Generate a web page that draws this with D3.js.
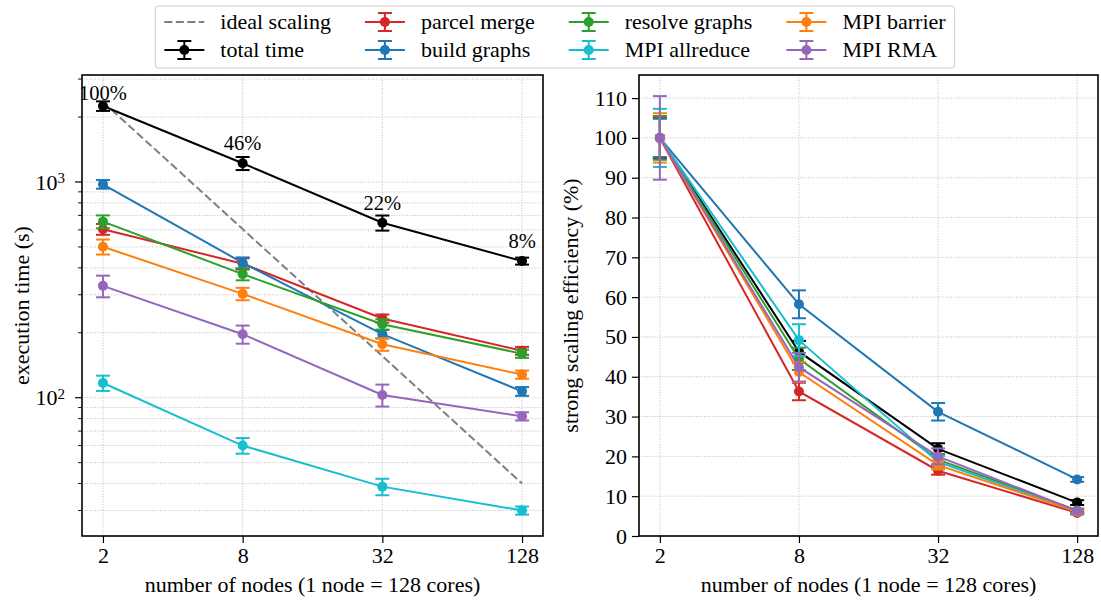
<!DOCTYPE html>
<html>
<head>
<meta charset="utf-8">
<script src="https://cdn.jsdelivr.net/npm/d3@7"></script>
<style>
  body { margin: 0; background: #fff; }
  text { font-family: "Liberation Serif", "DejaVu Serif", serif; fill: #000; }
</style>
</head>
<body>
<svg id="chart" width="1101" height="601"></svg>
<script>
// ---- data ----
var nodes = [2, 8, 32, 128]
var seriesNames = ["total time", "parcel merge", "build graphs", "resolve graphs", "MPI allreduce", "MPI barrier", "MPI RMA"]
var seriesColors = ["#000000", "#d62728", "#1f77b4", "#2ca02c", "#17becf", "#ff7f0e", "#9467bd"]

// execution time (s), mean and error
var totalTime = [2250, 1221, 647, 430]
var totalTimeErr = [115, 85, 52, 16]
var parcelTime = [604, 418, 233, 165]
var parcelTimeErr = [35, 25, 10, 7]
var buildTime = [976, 422, 197, 107]
var buildTimeErr = [45, 25, 9, 5]
var resolveTime = [655, 374, 219, 160]
var resolveTimeErr = [45, 24, 12, 7]
var allreduceTime = [117, 60, 38.7, 30]
var allreduceTimeErr = [9.5, 5, 3.4, 1.3]
var barrierTime = [501, 303, 177, 128]
var barrierTimeErr = [40, 20, 12, 5.6]
var rmaTime = [330, 197, 103, 82]
var rmaTimeErr = [38, 19, 12, 3.6]
var idealTime = [2350, 605, 156, 40]
var totalLabels = ["100%", "46%", "22%", "8%"]

// strong scaling efficiency (%), mean and error
var totalEff = [100, 46.3, 21.9, 8.4]
var totalEffErr = [5.1, 2.7, 1.4, 0.6]
var parcelEff = [100, 36.3, 16.4, 5.8]
var parcelEffErr = [5.0, 2.2, 1.0, 0.4]
var buildEff = [100, 58.2, 31.2, 14.2]
var buildEffErr = [4.8, 3.5, 2.2, 0.6]
var resolveEff = [100, 44.5, 19.2, 6.4]
var resolveEffErr = [5.5, 2.8, 1.2, 0.5]
var allreduceEff = [100, 49.2, 18.6, 6.1]
var allreduceEffErr = [7.3, 4.0, 1.5, 0.5]
var barrierEff = [100, 41.2, 17.8, 6.1]
var barrierEffErr = [6.2, 2.5, 1.1, 0.4]
var rmaEff = [100, 42.4, 20.0, 6.3]
var rmaEffErr = [10.5, 3.6, 2.0, 0.5]

var effTicks = [0, 10, 20, 30, 40, 50, 60, 70, 80, 90, 100, 110]

var timeSeries = [
    [totalTime, totalTimeErr], [parcelTime, parcelTimeErr], [buildTime, buildTimeErr],
    [resolveTime, resolveTimeErr], [allreduceTime, allreduceTimeErr],
    [barrierTime, barrierTimeErr], [rmaTime, rmaTimeErr]
]
var effSeries = [
    [totalEff, totalEffErr], [parcelEff, parcelEffErr], [buildEff, buildEffErr],
    [resolveEff, resolveEffErr], [allreduceEff, allreduceEffErr],
    [barrierEff, barrierEffErr], [rmaEff, rmaEffErr]
]

// ---- layout ----
var fontSize = 22
var svg = d3.select("#chart")
var leftBox = { x0: 82, x1: 543, y0: 75, y1: 536 }
var rightBox = { x0: 639, x1: 1098, y0: 75, y1: 536 }
var gridColor = "#b0b0b0"

function nodeScale(box) {
    // 5% margin on each side like matplotlib
    var pad = (box.x1 - box.x0) / 22
    return d3.scaleLog().base(2).domain([nodes[0], nodes[nodes.length - 1]]).range([box.x0 + pad, box.x1 - pad])
}

var xLeft = nodeScale(leftBox)
var xRight = nodeScale(rightBox)
var yTime = d3.scaleLog().domain([22.85, 3133]).range([leftBox.y1, leftBox.y0])
var yEff = d3.scaleLinear().domain([0, 115.8]).range([rightBox.y1, rightBox.y0])

function drawGrid(g, box, x, yTicks, y) {
    g.append("g").selectAll("line").data(nodes).enter().append("line")
        .attr("x1", d => x(d)).attr("x2", d => x(d))
        .attr("y1", box.y0).attr("y2", box.y1)
        .attr("stroke", gridColor).attr("stroke-width", 0.8).attr("stroke-dasharray", "1,1.6")
    g.append("g").selectAll("line").data(yTicks).enter().append("line")
        .attr("x1", box.x0).attr("x2", box.x1)
        .attr("y1", d => y(d)).attr("y2", d => y(d))
        .attr("stroke", gridColor).attr("stroke-width", 0.8).attr("stroke-dasharray", "1,1.6")
}

function drawXAxis(g, box, x) {
    var ax = g.append("g")
        .attr("transform", "translate(0," + box.y1 + ")")
        .call(d3.axisBottom(x).tickValues(nodes).tickFormat(d3.format("d")).tickSize(7).tickPadding(4))
    ax.select(".domain").remove()
    ax.selectAll("line").attr("stroke", "#000").attr("stroke-width", 1.2)
    ax.selectAll("text").style("font-size", fontSize + "px").attr("font-family", null)
    g.append("text")
        .attr("x", (box.x0 + box.x1) / 2).attr("y", 592)
        .attr("text-anchor", "middle").style("font-size", fontSize + "px")
        .text("number of nodes (1 node = 128 cores)")
}

function drawSeries(g, x, y, vals, errs, color) {
    var pts = nodes.map((n, i) => ({ n: n, v: vals[i], e: errs[i] }))
    g.append("path").datum(pts)
        .attr("d", d3.line().x(d => x(d.n)).y(d => y(d.v)))
        .attr("fill", "none").attr("stroke", color).attr("stroke-width", 2)
    g.append("g").selectAll("line").data(pts).enter().append("line")
        .attr("x1", d => x(d.n)).attr("x2", d => x(d.n))
        .attr("y1", d => y(d.v - d.e)).attr("y2", d => y(d.v + d.e))
        .attr("stroke", color).attr("stroke-width", 2)
    var caps = g.append("g")
    pts.forEach(d => {
        [d.v - d.e, d.v + d.e].forEach(c => {
            caps.append("line")
                .attr("x1", x(d.n) - 7).attr("x2", x(d.n) + 7)
                .attr("y1", y(c)).attr("y2", y(c))
                .attr("stroke", color).attr("stroke-width", 2)
        })
    })
    g.append("g").selectAll("circle").data(pts).enter().append("circle")
        .attr("cx", d => x(d.n)).attr("cy", d => y(d.v)).attr("r", 5)
        .attr("fill", color)
}

function drawFrame(g, box) {
    g.append("rect")
        .attr("x", box.x0).attr("y", box.y0)
        .attr("width", box.x1 - box.x0).attr("height", box.y1 - box.y0)
        .attr("fill", "none").attr("stroke", "#000").attr("stroke-width", 1.6)
}

// ---- left panel: execution time ----
var gL = svg.append("g")
var timeTicks = yTime.ticks()
drawGrid(gL, leftBox, xLeft, timeTicks, yTime)

// y ticks (major at decades, minor otherwise)
var isDecade = d => Math.abs(Math.log10(d) - Math.round(Math.log10(d))) < 1e-9
gL.append("g").selectAll("line").data(timeTicks).enter().append("line")
    .attr("x1", d => leftBox.x0 - (isDecade(d) ? 7 : 4)).attr("x2", leftBox.x0)
    .attr("y1", d => yTime(d)).attr("y2", d => yTime(d))
    .attr("stroke", "#000").attr("stroke-width", d => isDecade(d) ? 1.2 : 0.9)
var decLabels = gL.append("g").selectAll("text").data(timeTicks.filter(isDecade)).enter().append("text")
    .attr("x", leftBox.x0 - 17).attr("y", d => yTime(d)).attr("dy", "0.35em")
    .attr("text-anchor", "end").style("font-size", fontSize + "px")
decLabels.append("tspan").text("10")
decLabels.append("tspan").attr("dy", "-0.45em").style("font-size", "15px")
    .text(d => Math.round(Math.log10(d)))

gL.append("text")
    .attr("transform", "translate(29," + (leftBox.y0 + leftBox.y1) / 2 + ") rotate(-90)")
    .attr("text-anchor", "middle").style("font-size", fontSize + "px")
    .text("execution time (s)")

drawXAxis(gL, leftBox, xLeft)

var gLData = gL.append("g")
gLData.append("path").datum(nodes.map((n, i) => [n, idealTime[i]]))
    .attr("d", d3.line().x(d => xLeft(d[0])).y(d => yTime(d[1])))
    .attr("fill", "none").attr("stroke", "#7f7f7f").attr("stroke-width", 2)
    .attr("stroke-dasharray", "8,3.5")
timeSeries.forEach((s, i) => drawSeries(gLData, xLeft, yTime, s[0], s[1], seriesColors[i]))

gL.append("g").selectAll("text").data(nodes).enter().append("text")
    .attr("x", d => xLeft(d))
    .attr("y", (d, i) => Math.max(yTime(totalTime[i]) - 13, leftBox.y0 + 25))
    .attr("text-anchor", "middle").style("font-size", "20.5px")
    .text((d, i) => totalLabels[i])

drawFrame(gL, leftBox)

// ---- right panel: strong scaling efficiency ----
var gR = svg.append("g")
drawGrid(gR, rightBox, xRight, effTicks, yEff)

var axR = gR.append("g")
    .attr("transform", "translate(" + rightBox.x0 + ",0)")
    .call(d3.axisLeft(yEff).tickValues(effTicks).tickSize(7).tickPadding(5))
axR.select(".domain").remove()
axR.selectAll("line").attr("stroke", "#000").attr("stroke-width", 1.2)
axR.selectAll("text").style("font-size", fontSize + "px").attr("font-family", null)

gR.append("text")
    .attr("transform", "translate(578," + (rightBox.y0 + rightBox.y1) / 2 + ") rotate(-90)")
    .attr("text-anchor", "middle").style("font-size", fontSize + "px")
    .text("strong scaling efficiency (%)")

drawXAxis(gR, rightBox, xRight)

var gRData = gR.append("g")
effSeries.forEach((s, i) => drawSeries(gRData, xRight, yEff, s[0], s[1], seriesColors[i]))

drawFrame(gR, rightBox)

// ---- legend (4 columns, 2 rows, column-major like matplotlib) ----
var legendNames = ["ideal scaling"].concat(seriesNames)
var legendColors = ["#7f7f7f"].concat(seriesColors)
var handleLen = 40, handlePad = 16, colSpace = 34, borderPad = 9
var rowY = [22, 50]
var leg = svg.append("g")
var legBox = leg.append("rect")

var texts = legendNames.map(name => leg.append("text").style("font-size", fontSize + "px").text(name))
var widths = texts.map(t => t.node().getComputedTextLength())
var colWidths = [0, 1, 2, 3].map(c => handleLen + handlePad + Math.max(widths[2 * c], widths[2 * c + 1]))
var totalW = d3.sum(colWidths) + 3 * colSpace + 2 * borderPad
var legX0 = 555 - totalW / 2

var cx = legX0 + borderPad
colWidths.forEach((w, c) => {
    [0, 1].forEach(r => {
        var k = 2 * c + r
        var yy = rowY[r]
        var col = legendColors[k]
        if (k === 0) {
            leg.append("line").attr("x1", cx).attr("x2", cx + handleLen)
                .attr("y1", yy).attr("y2", yy)
                .attr("stroke", col).attr("stroke-width", 2).attr("stroke-dasharray", "8,3.5")
        } else {
            var mx = cx + handleLen / 2
            leg.append("line").attr("x1", cx).attr("x2", cx + handleLen)
                .attr("y1", yy).attr("y2", yy).attr("stroke", col).attr("stroke-width", 2)
            leg.append("line").attr("x1", mx).attr("x2", mx)
                .attr("y1", yy - 9).attr("y2", yy + 9).attr("stroke", col).attr("stroke-width", 2)
            ;[yy - 9, yy + 9].forEach(c2 => {
                leg.append("line").attr("x1", mx - 7).attr("x2", mx + 7)
                    .attr("y1", c2).attr("y2", c2).attr("stroke", col).attr("stroke-width", 2)
            })
            leg.append("circle").attr("cx", mx).attr("cy", yy).attr("r", 5).attr("fill", col)
        }
        texts[k].attr("x", cx + handleLen + handlePad).attr("y", yy).attr("dy", "0.33em")
        texts[k].raise()
    })
    cx += w + colSpace
})

legBox.attr("x", legX0).attr("y", 6).attr("width", totalW).attr("height", 62)
    .attr("rx", 3).attr("fill", "#fff").attr("fill-opacity", 0.8)
    .attr("stroke", "#cccccc").attr("stroke-width", 1)
</script>
</body>
</html>
